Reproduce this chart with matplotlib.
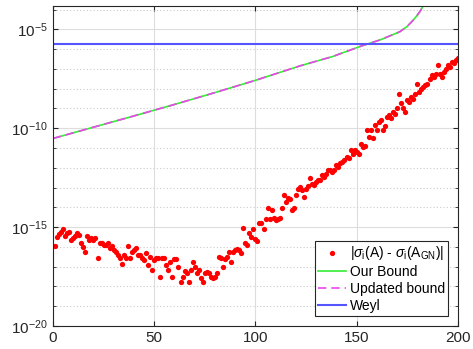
import numpy as np
import matplotlib
matplotlib.use("Agg")
import matplotlib.pyplot as plt
from matplotlib.ticker import FixedLocator, NullFormatter, LogFormatterSciNotation

plt.rcParams['font.family'] = ['Liberation Sans', 'DejaVu Sans']
plt.rcParams['mathtext.fontset'] = 'custom'
plt.rcParams['mathtext.rm'] = 'Liberation Sans'
plt.rcParams['mathtext.it'] = 'Liberation Sans:italic'

# |sigma_i(A) - sigma_i(A_GN)|, stored as log10 exponents, i = 1..200
idx = np.arange(1, 201)
err_exp = [
    -15.96, -15.49, -15.35, -15.24, -15.12, -15.45, -15.30, -15.24, -15.66, -15.57,
    -15.45, -15.32, -15.40, -15.82, -15.99, -16.25, -15.45, -15.66, -15.57, -15.66,
    -15.55, -16.58, -15.82, -15.82, -15.90, -15.91, -15.82, -16.08, -15.95, -16.16,
    -16.25, -16.41, -16.58, -16.87, -16.41, -16.58, -15.96, -16.58, -16.25, -16.16,
    -16.08, -16.41, -16.41, -16.58, -16.67, -16.33, -16.92, -16.50, -17.17, -16.67,
    -16.58, -16.55, -17.51, -16.55, -16.55, -16.90, -17.17, -16.75, -17.51, -16.62,
    -16.62, -17.00, -17.76, -17.51, -17.20, -17.34, -17.76, -17.17, -16.75, -17.00,
    -17.30, -17.17, -17.59, -17.76, -17.34, -17.26, -17.34, -17.51, -17.59, -17.51,
    -17.30, -16.53, -16.58, -17.00, -16.60, -16.53, -16.25, -16.75, -16.25, -16.16,
    -16.10, -16.16, -16.33, -15.07, -15.82, -15.90, -15.32, -15.50, -15.10, -15.60,
    -15.70, -14.81, -14.80, -15.10, -14.60, -14.06, -14.60, -14.14, -14.56, -14.65,
    -14.60, -14.56, -14.06, -13.40, -13.72, -13.55, -13.60, -14.14, -14.06, -13.38,
    -13.05, -12.97, -13.13, -13.47, -13.05, -12.90, -12.54, -12.80, -12.88, -12.71,
    -12.63, -12.60, -12.37, -12.45, -12.30, -12.12, -12.10, -12.20, -12.10, -11.87,
    -11.95, -11.78, -11.70, -11.62, -11.45, -11.50, -11.11, -11.30, -11.11, -11.20,
    -11.28, -10.78, -10.95, -10.90, -10.10, -10.44, -10.10, -10.50, -9.85, -10.10,
    -9.68, -9.60, -10.10, -9.90, -9.43, -9.35, -9.50, -9.18, -9.30, -9.00,
    -8.25, -8.75, -9.00, -9.18, -8.59, -8.70, -8.42, -8.50, -8.25, -7.74,
    -8.17, -8.00, -7.91, -7.80, -7.74, -7.50, -7.32, -7.40, -7.24, -6.82,
    -7.24, -7.41, -7.16, -7.00, -6.82, -6.90, -6.65, -6.70, -6.55, -6.45,
]

# bound curves (our bound and updated bound coincide)
bound_x = [0, 20, 40, 60, 80, 100, 122, 138, 153, 161.5, 171.4, 175, 178, 180, 181.2, 182.9, 183.5]
bound_exp = [-10.52, -9.95, -9.38, -8.80, -8.20, -7.58, -6.85, -6.38, -5.82, -5.54,
             -5.12, -4.85, -4.53, -4.28, -4.11, -3.82, -3.55]

weyl_exp = -5.74
x_range = [0, 200]

err = 10.0 ** np.array(err_exp)
bound = 10.0 ** np.array(bound_exp)

fig = plt.figure(figsize=(4.73, 3.49), dpi=100)
ax = fig.add_axes([0.112, 0.066, 0.856, 0.918])

ax.plot(idx, err, 'o', color='#ff0000', ms=3.8, mec='none',
        label=r'|$\sigma_\mathrm{i}$(A) - $\sigma_\mathrm{i}$(A$_\mathrm{GN}$)|')
ax.plot(bound_x, bound, '-', color='#33ee33', lw=1.2, label='Our Bound')
ax.plot(bound_x, bound, '--', color='#ee44ee', lw=1.2, dashes=(5, 3), label='Updated bound')
ax.plot(x_range, [10.0 ** weyl_exp] * 2, '-', color='#5555ff', lw=1.5, label='Weyl')

ax.set_yscale('log')
ax.set_xlim(0, 200)
ax.set_ylim(1e-20, 10 ** -3.8)
ax.set_xticks([0, 50, 100, 150, 200])
ax.yaxis.set_major_locator(FixedLocator([1e-20, 1e-15, 1e-10, 1e-5]))
ax.yaxis.set_major_formatter(LogFormatterSciNotation())
ax.yaxis.set_minor_locator(FixedLocator([10.0 ** k for k in range(-19, -3) if k % 5 != 0]))
ax.yaxis.set_minor_formatter(NullFormatter())

ax.grid(True, which='major', color='#dddddd', lw=0.8)
ax.grid(True, which='minor', axis='y', color='#cccccc', lw=0.8, ls=(0, (1, 2)))
ax.set_axisbelow(True)

ax.tick_params(which='both', direction='in', top=True, right=True, labelsize=11,
               colors='#262626')
ax.tick_params(which='major', length=3.5)
ax.tick_params(which='minor', length=2)
for s in ax.spines.values():
    s.set_color('#262626')
    s.set_linewidth(0.8)

leg = ax.legend(loc='lower right', fontsize=10, frameon=True, fancybox=False,
                edgecolor='#262626', framealpha=1, borderpad=0.25, labelspacing=0.2,
                handlelength=2.0, handletextpad=0.25, borderaxespad=0.7)
leg.get_frame().set_linewidth(0.8)

fig.savefig('out.png', dpi=100)
